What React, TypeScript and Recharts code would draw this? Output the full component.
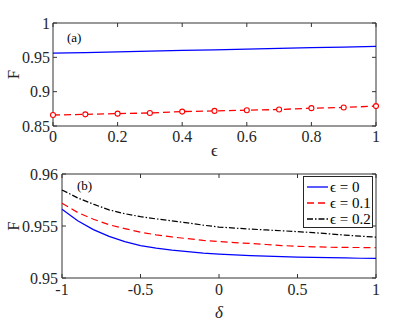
import React from "react";
import { LineChart, Line, XAxis, YAxis, Label, Legend } from "recharts";

// panel (a): F vs epsilon
const epsValues = [0, 0.1, 0.2, 0.3, 0.4, 0.5, 0.6, 0.7, 0.8, 0.9, 1];
const blueA = [0.956, 0.957, 0.958, 0.959, 0.96, 0.961, 0.962, 0.963, 0.964, 0.965, 0.966];
const redA = [0.866, 0.867, 0.868, 0.869, 0.871, 0.872, 0.873, 0.874, 0.876, 0.877, 0.879];
const xTicksA = [0, 0.2, 0.4, 0.6, 0.8, 1];
const yTicksA = [0.85, 0.9, 0.95, 1];

// panel (b): F vs delta
const deltaValues = [
  -1, -0.9, -0.8, -0.7, -0.6, -0.5, -0.4, -0.3, -0.2, -0.1, 0, 0.1, 0.2, 0.3, 0.4, 0.5, 0.6, 0.7,
  0.8, 0.9, 1,
];
const eps0 = [
  0.95662, 0.9555, 0.95465, 0.954, 0.9535, 0.95312, 0.95288, 0.95268, 0.95254, 0.9524, 0.9523,
  0.95222, 0.95215, 0.9521, 0.95205, 0.95201, 0.95198, 0.95195, 0.95193, 0.9519, 0.95188,
];
const eps01 = [
  0.95719, 0.9563, 0.95565, 0.95512, 0.95475, 0.9544, 0.95415, 0.95395, 0.95378, 0.95362, 0.9535,
  0.9534, 0.95332, 0.95322, 0.95312, 0.95305, 0.953, 0.95296, 0.95294, 0.95293, 0.95292,
];
const eps02 = [
  0.95847, 0.9577, 0.9571, 0.95655, 0.95618, 0.9559, 0.95568, 0.9555, 0.9553, 0.95508, 0.9549,
  0.9548, 0.9547, 0.95462, 0.95454, 0.95446, 0.95436, 0.95425, 0.95413, 0.95402, 0.95393,
];
const xTicksB = [-1, -0.5, 0, 0.5, 1];
const yTicksB = [0.95, 0.955, 0.96];
const legendNames = ["\u03f5 = 0", "\u03f5 = 0.1", "\u03f5 = 0.2"];

const dataA = epsValues.map((x, i) => ({ x, blue: blueA[i], red: redA[i] }));
const dataB = deltaValues.map((x, i) => ({ x, e0: eps0[i], e1: eps01[i], e2: eps02[i] }));

const FONT = "Liberation Serif";
const AXIS = "#333333";
const TICK = 4;
const tickStyle = { fontSize: 16, fill: "#262626", fontFamily: FONT };

const yTitle = (off: number) => (props: any) => {
  const vb = props.viewBox || {};
  const x = (vb.x ?? 0) + (vb.width ?? 0) - off;
  const y = (vb.y ?? 0) + (vb.height ?? 0) / 2;
  return (
    <text
      x={x}
      y={y}
      transform={`rotate(-90, ${x}, ${y})`}
      textAnchor="middle"
      fontSize={17}
      fontFamily={FONT}
      fill="#262626"
    >
      F
    </text>
  );
};

// inward tick mark drawn as a custom dot
const tickDot = (dx: number, dy: number) => (p: any) => (
  <line
    key={`${p.index}-${dx}-${dy}`}
    x1={p.cx}
    y1={p.cy}
    x2={p.cx + dx * TICK}
    y2={p.cy + dy * TICK}
    stroke={AXIS}
    strokeWidth={1}
  />
);

// MATLAB style box with inward ticks, drawn through the chart's own scales
const frame = (domX: number[], domY: number[], tx: number[], ty: number[]) => {
  const [x0, x1] = domX;
  const [y0, y1] = domY;
  const box = [
    { x: x0, f: y0 },
    { x: x1, f: y0 },
    { x: x1, f: y1 },
    { x: x0, f: y1 },
    { x: x0, f: y0 },
  ];
  const sets: [string, any[], number, number][] = [
    ["tb", tx.map((t) => ({ x: t, f: y0 })), 0, -1],
    ["tt", tx.map((t) => ({ x: t, f: y1 })), 0, 1],
    ["tl", ty.map((t) => ({ x: x0, f: t })), 1, 0],
    ["tr", ty.map((t) => ({ x: x1, f: t })), -1, 0],
  ];
  return [
    <Line
      key="box"
      data={box}
      dataKey="f"
      stroke={AXIS}
      strokeWidth={1}
      dot={false}
      legendType="none"
      isAnimationActive={false}
    />,
    ...sets.map(([k, d, dx, dy]) => (
      <Line
        key={k}
        data={d}
        dataKey="f"
        stroke="none"
        dot={tickDot(dx, dy)}
        legendType="none"
        isAnimationActive={false}
      />
    )),
  ];
};

const LegendBox = (props: any) => {
  const items = (props.payload || []).filter((it: any) => it.dataKey !== "f" && it.type !== "none");
  return (
    <div
      style={{
        width: 70,
        height: 52,
        border: "1px solid #262626",
        background: "#fff",
        boxSizing: "border-box",
        paddingTop: 2,
      }}
    >
      {items.map((it: any, i: number) => (
        <div key={i} style={{ display: "flex", alignItems: "center", height: 16 }}>
          <svg width={26} height={10} style={{ flex: "none" }}>
            <line
              x1={3}
              x2={24}
              y1={5}
              y2={5}
              stroke={it.color}
              strokeWidth={1.3}
              strokeDasharray={it.payload?.strokeDasharray}
            />
          </svg>
          <span style={{ fontFamily: FONT, fontSize: 15, color: "#000", whiteSpace: "nowrap" }}>
            {legendNames[i]}
          </span>
        </div>
      ))}
    </div>
  );
};

export default function App() {
  return (
    <div style={{ position: "absolute", left: 0, top: 0, width: 415, height: 324, background: "#fff" }}>
      <LineChart
        width={415}
        height={160}
        data={dataA}
        margin={{ top: 23, right: 39, bottom: 4, left: 3 }}
      >
        <XAxis
          type="number"
          dataKey="x"
          domain={[0, 1]}
          ticks={xTicksA}
          axisLine={false}
          tickLine={false}
          tickSize={0}
          tickMargin={5}
          height={30}
          tick={tickStyle}
        >
          <Label
            value={"\u03f5"}
            position="insideBottom"
            offset={0}
            style={{ fontSize: 17, fontFamily: FONT, fill: "#262626" }}
          />
        </XAxis>
        <YAxis
          type="number"
          domain={[0.85, 1]}
          ticks={yTicksA}
          axisLine={false}
          tickLine={false}
          tickSize={0}
          tickMargin={3}
          width={50}
          tick={tickStyle}
        >
          <Label content={yTitle(34)} />
        </YAxis>
        {frame([0, 1], [0.85, 1], xTicksA, yTicksA)}
        <Line
          dataKey="blue"
          stroke="#0000ff"
          strokeWidth={1.3}
          dot={false}
          isAnimationActive={false}
        />
        <Line
          dataKey="red"
          stroke="#ff0000"
          strokeWidth={1.3}
          strokeDasharray="7 4"
          dot={{ r: 2.5, stroke: "#ff0000", strokeWidth: 1.1, fill: "#fff", strokeDasharray: "" }}
          isAnimationActive={false}
        />
      </LineChart>
      <div
        style={{
          position: "absolute",
          left: 67,
          top: 30,
          fontFamily: FONT,
          fontSize: 13,
          color: "#000",
        }}
      >
        (a)
      </div>

      <LineChart
        width={415}
        height={164}
        data={dataB}
        margin={{ top: 14, right: 39, bottom: 6, left: 2 }}
      >
        <XAxis
          type="number"
          dataKey="x"
          domain={[-1, 1]}
          ticks={xTicksB}
          axisLine={false}
          tickLine={false}
          tickSize={0}
          tickMargin={6}
          height={40}
          tick={tickStyle}
        >
          <Label
            value={"\u03b4"}
            position="insideBottom"
            offset={0}
            style={{ fontSize: 17, fontFamily: FONT, fontStyle: "italic", fill: "#262626" }}
          />
        </XAxis>
        <YAxis
          type="number"
          domain={[0.95, 0.96]}
          ticks={yTicksB}
          axisLine={false}
          tickLine={false}
          tickSize={0}
          tickMargin={4}
          width={60}
          tick={tickStyle}
        >
          <Label content={yTitle(43)} />
        </YAxis>
        {frame([-1, 1], [0.95, 0.96], xTicksB, yTicksB)}
        <Line
          dataKey="e0"
          stroke="#0000ff"
          strokeWidth={1.2}
          dot={false}
          isAnimationActive={false}
        />
        <Line
          dataKey="e1"
          stroke="#ff0000"
          strokeWidth={1.2}
          strokeDasharray="7 4"
          dot={false}
          isAnimationActive={false}
        />
        <Line
          dataKey="e2"
          stroke="#000000"
          strokeWidth={1.2}
          strokeDasharray="6 2 1.5 2"
          dot={false}
          isAnimationActive={false}
        />
        <Legend
          layout="vertical"
          align="center"
          verticalAlign="middle"
          content={<LegendBox />}
          wrapperStyle={{ position: "absolute", left: 303, top: 16, width: 70, height: 52 }}
        />
      </LineChart>
      <div
        style={{
          position: "absolute",
          left: 77,
          top: 178,
          fontFamily: FONT,
          fontSize: 13,
          color: "#000",
        }}
      >
        (b)
      </div>
    </div>
  );
}
